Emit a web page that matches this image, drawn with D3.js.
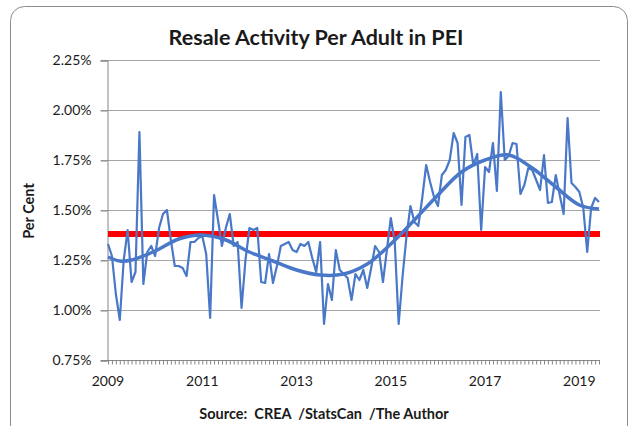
<!DOCTYPE html>
<html>
<head>
<meta charset="utf-8">
<script src="https://cdn.jsdelivr.net/npm/d3@7"></script>
<style>
  body { margin: 0; background: #fff; }
  svg text { font-family: Lato, "Open Sans", "Liberation Sans", sans-serif; fill: #1a1a1a; }
  .grid line { stroke: #a6a6a6; stroke-width: 1; }
  .axis path, .axis line { stroke: #868686; }
</style>
</head>
<body>
<div id="chart"></div>
<script>
// monthly resale activity per adult (%), Jan 2009 .. Jun 2019
const months = d3.range(126);
const resale = [
  1.33, 1.27, 1.08, 0.95, 1.25, 1.40, 1.14, 1.19, 1.89, 1.13, 1.29, 1.32,
  1.27, 1.41, 1.48, 1.50, 1.35, 1.22, 1.22, 1.21, 1.17, 1.34, 1.34, 1.36,
  1.37, 1.28, 0.96, 1.575, 1.45, 1.32, 1.41, 1.48, 1.32, 1.34, 1.01, 1.25,
  1.41, 1.40, 1.41, 1.14, 1.135, 1.28, 1.135, 1.22, 1.32, 1.33, 1.34, 1.30,
  1.29, 1.33, 1.32, 1.34, 1.26, 1.19, 1.34, 0.93, 1.13, 1.05, 1.30, 1.20,
  1.18, 1.16, 1.05, 1.18, 1.15, 1.20, 1.11, 1.21, 1.32, 1.29, 1.14, 1.30,
  1.46, 1.34, 0.93, 1.17, 1.37, 1.52, 1.44, 1.42, 1.56, 1.725, 1.64, 1.565,
  1.52, 1.675, 1.70, 1.75, 1.885, 1.835, 1.525, 1.865, 1.875, 1.725, 1.78, 1.40,
  1.715, 1.69, 1.835, 1.595, 2.09, 1.75, 1.77, 1.835, 1.83, 1.58, 1.625, 1.71,
  1.70, 1.65, 1.60, 1.775, 1.535, 1.54, 1.675, 1.575, 1.48, 1.96, 1.635, 1.615,
  1.59, 1.51, 1.29, 1.51, 1.56, 1.54
];

// trend curve
const trendMonths = [0, 3, 6, 12, 18, 24, 30, 36, 42, 48, 54, 60, 66, 72, 78, 84, 90, 96, 102, 108, 114, 120, 125];
const trendValues = [1.265, 1.245, 1.25, 1.295, 1.355, 1.375, 1.35, 1.29, 1.245, 1.20, 1.175, 1.18, 1.23, 1.33, 1.45, 1.575, 1.69, 1.75, 1.775, 1.71, 1.615, 1.525, 1.505];

const averageValue = 1.38;

const yTicks = [0.75, 1.00, 1.25, 1.50, 1.75, 2.00, 2.25];
const xTickYears = [2009, 2011, 2013, 2015, 2017, 2019];

const W = 631, H = 426;
const plot = {left: 108, right: 599, top: 60, bottom: 360};

const svg = d3.select("#chart").append("svg")
    .attr("width", W)
    .attr("height", H);

// chart frame
svg.append("rect")
    .attr("x", 10.5).attr("y", 6.5)
    .attr("width", 617).attr("height", 440)
    .attr("rx", 14)
    .attr("fill", "#fff")
    .attr("stroke", "#8c8c8c")
    .attr("stroke-width", 1);

const x = d3.scaleLinear().domain([0, 125]).range([plot.left, plot.right]);
const y = d3.scaleLinear().domain([0.75, 2.25]).range([plot.bottom, plot.top]);

// gridlines
svg.append("g").attr("class", "grid")
  .selectAll("line")
  .data(yTicks.slice(1))
  .enter().append("line")
    .attr("x1", plot.left - 7).attr("x2", plot.right + 1)
    .attr("y1", d => Math.round(y(d)) + 0.5)
    .attr("y2", d => Math.round(y(d)) + 0.5);

// y axis
const yAxis = svg.append("g").attr("class", "axis")
    .attr("transform", "translate(" + (plot.left - 0.5) + ",0.5)")
    .call(d3.axisLeft(y).tickValues(yTicks).tickSize(7).tickFormat(d => d3.format(".2f")(d) + "%"));
yAxis.selectAll("text").attr("font-size", 14).attr("x", -16);

// x axis, monthly minor ticks
const xAxis = svg.append("g").attr("class", "axis")
    .attr("transform", "translate(0," + (plot.bottom + 0.5) + ")")
    .call(d3.axisBottom(x).tickValues(months).tickSize(4).tickSizeOuter(0).tickFormat(""));
xAxis.select(".domain").attr("d", "M" + (plot.left - 7) + ",0H" + (plot.right + 1));

svg.append("g").selectAll("text")
  .data(xTickYears)
  .enter().append("text")
    .attr("x", d => x((d - 2009) * 12))
    .attr("y", 386)
    .attr("text-anchor", "middle")
    .attr("font-size", 14)
    .text(d => d);

// average line
svg.append("line")
    .attr("x1", x(0)).attr("x2", x(125) + 1)
    .attr("y1", y(averageValue)).attr("y2", y(averageValue))
    .attr("stroke", "#ff0000")
    .attr("stroke-width", 6);

// monthly series
const line = d3.line().x((d, i) => x(months[i])).y(d => y(d));
svg.append("path")
    .datum(resale)
    .attr("d", line)
    .attr("fill", "none")
    .attr("stroke", "#4a78c8")
    .attr("stroke-width", 2.2)
    .attr("stroke-linejoin", "round");

// trend
const trendLine = d3.line()
    .x((d, i) => x(trendMonths[i]))
    .y(d => y(d))
    .curve(d3.curveCatmullRom);
svg.append("path")
    .datum(trendValues)
    .attr("d", trendLine)
    .attr("fill", "none")
    .attr("stroke", "#4a78c8")
    .attr("stroke-width", 3.5);

// titles
svg.append("text")
    .attr("x", 316).attr("y", 45)
    .attr("text-anchor", "middle")
    .attr("font-size", 21.5)
    .attr("font-weight", "bold")
    .attr("fill", "#000")
    .text("Resale Activity Per Adult in PEI");

svg.append("text")
    .attr("transform", "translate(34,211) rotate(-90)")
    .attr("text-anchor", "middle")
    .attr("font-size", 14.5)
    .attr("font-weight", "bold")
    .text("Per Cent");

svg.append("text")
    .attr("x", 324).attr("y", 419)
    .attr("text-anchor", "middle")
    .attr("font-size", 14.5)
    .attr("font-weight", "bold")
    .attr("xml:space", "preserve")
    .text("Source:  CREA  /StatsCan  /The Author");
</script>
</body>
</html>
